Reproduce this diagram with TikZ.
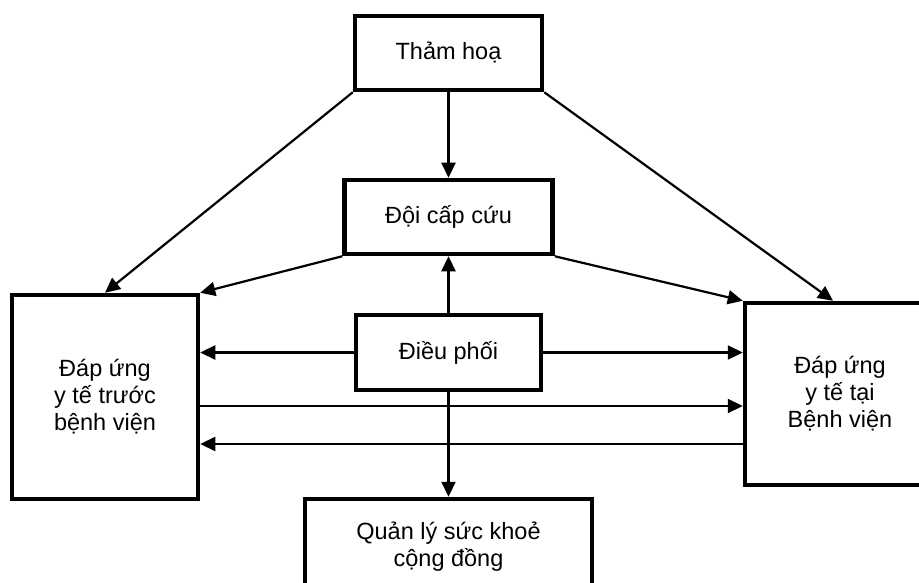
\documentclass[tikz,border=0pt]{standalone}
\usepackage{fontspec}
\setmainfont{Liberation Sans}
\usetikzlibrary{arrows.meta,calc}
\begin{document}
\begin{tikzpicture}[x=1pt,y=-1pt,
  box/.style={draw=black,line width=4.5pt,fill=white,inner sep=0pt,align=center,
    font=\fontsize{23.5}{27}\selectfont},
  conn/.style={line width=2.2pt,-{Triangle[length=15pt,width=14pt]}}]
\useasboundingbox (0,0) rectangle (919,583);
\clip (0,0) rectangle (919,583);
\node[box,minimum width=187pt,minimum height=74pt] (tham) at (448.5,53) {Thảm hoạ};
\node[box,minimum width=208pt,minimum height=74pt] (doi) at (448.5,217) {Đội cấp cứu};
\node[box,minimum width=185pt,minimum height=75pt] (dieu) at (448.5,352.5) {Điều phối};
\node[box,minimum width=186pt,minimum height=204pt] (left) at (105,397) {Đáp ứng\\y tế trước\\bệnh viện};
\node[box,minimum width=190pt,minimum height=182pt] (right) at (840,394) {Đáp ứng\\y tế tại\\Bệnh viện};
\node[box,minimum width=287pt,minimum height=96pt] (bot) at (448.5,547) {Quản lý sức khoẻ\\cộng đồng};
\coordinate (rtop) at ($(right.north)+(-7,0)$);
\draw[conn] (tham.south) -- (doi.north);
\draw[conn] (tham.south west) -- (left.north);
\draw[conn] (tham.south east) -- (rtop);
\draw[conn] (doi.south west) -- (left.north east);
\draw[conn] (doi.south east) -- (right.north west);
\draw[conn] (dieu.north) -- (doi.south);
\draw[conn] (dieu.west) -- (dieu.west -| left.east);
\draw[conn] (dieu.east) -- (dieu.east -| right.west);
\coordinate (la) at (left.east |- 0,406);
\coordinate (rb) at (right.west |- 0,444);
\draw[conn] (la) -- (la -| right.west);
\draw[conn] (rb) -- (rb -| left.east);
\draw[conn] (dieu.south) -- (bot.north);
\end{tikzpicture}
\end{document}
